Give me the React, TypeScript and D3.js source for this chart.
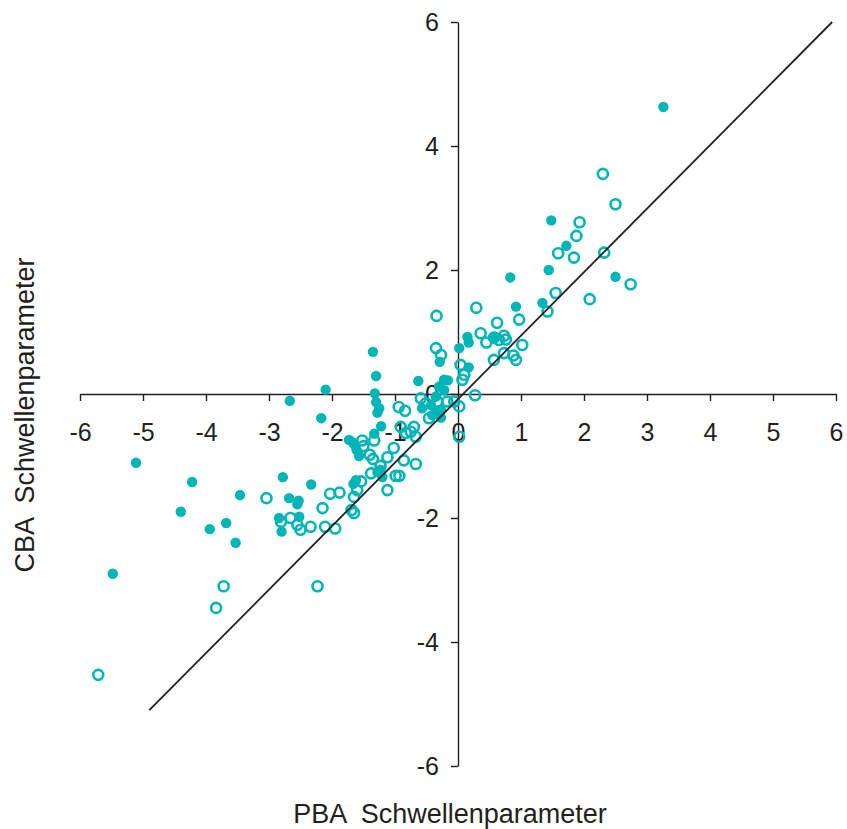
import React, { useEffect, useRef } from "react";
import * as d3 from "d3";

// tick values on both axes
const xTicks = [-6, -5, -4, -3, -2, -1, 0, 1, 2, 3, 4, 5, 6];
const yTicks = [-6, -4, -2, 0, 2, 4, 6];

// filled markers (PBA, CBA)
const solidPoints: [number, number][] = [
  [-5.11, -1.11], [-4.22, -1.42], [-3.46, -1.63], [-4.4, -1.9], [-3.68, -2.08], [-3.94, -2.18],
  [-3.53, -2.4], [-5.48, -2.9],
  [-2.78, -1.34], [-2.33, -1.46], [-2.68, -1.68], [-2.53, -1.72], [-2.55, -1.78], [-2.84, -2.0],
  [-2.52, -1.98], [-2.8, -2.22],
  [-2.67, -0.11], [-2.1, 0.07], [-2.17, -0.39],
  [-1.35, 0.68], [-1.3, 0.29], [-1.32, 0.01], [-1.3, -0.13], [-1.25, -0.23], [-1.28, -0.3],
  [-1.22, -0.52], [-1.33, -0.64],
  [-1.73, -0.74], [-1.67, -0.78], [-1.64, -0.82], [-1.61, -0.9], [-1.57, -1.0],
  [-1.23, -1.22], [-1.28, -1.26], [-1.2, -1.34], [-1.62, -1.39], [-1.66, -1.45],
  [-0.63, 0.21], [-0.22, 0.23], [-0.16, 0.22], [-0.3, 0.12], [-0.22, 0.06], [-0.35, -0.04],
  [-0.43, -0.18], [-0.57, -0.23], [-0.35, -0.29], [-0.27, -0.26], [-0.41, -0.34], [-0.27, -0.38],
  [-0.29, 0.52], [0.02, 0.74], [0.15, 0.92], [0.17, 0.83], [0.17, 0.43],
  [0.59, 0.92], [0.92, 1.41], [1.34, 1.47], [0.83, 1.88], [1.44, 2.0], [1.72, 2.39], [1.48, 2.8],
  [2.5, 1.89], [3.26, 4.63],
];

// open markers (PBA, CBA)
const openPoints: [number, number][] = [
  [-3.72, -3.1], [-3.84, -3.45], [-5.71, -4.53], [-2.23, -3.1],
  [-3.04, -1.68], [-2.66, -2.0], [-2.81, -2.06], [-2.55, -2.11], [-2.5, -2.19], [-2.34, -2.14],
  [-2.11, -2.14], [-1.95, -2.17], [-2.15, -1.84], [-2.03, -1.61], [-1.88, -1.59],
  [-1.69, -1.87], [-1.65, -1.92], [-1.65, -1.66], [-1.6, -1.55], [-1.54, -1.41], [-1.12, -1.55],
  [-1.38, -1.28], [-0.99, -1.32], [-0.93, -1.32], [-1.23, -1.16], [-0.86, -1.07], [-0.67, -1.13],
  [-1.4, -0.98], [-1.35, -1.05], [-1.12, -1.02], [-1.02, -0.87],
  [-1.33, -0.75], [-1.52, -0.75], [-1.5, -0.84],
  [-0.94, -0.21], [-0.84, -0.27], [-0.7, -0.53], [-0.91, -0.53], [-0.75, -0.61], [-0.83, -0.63],
  [-0.67, -0.69], [-0.46, -0.39], [-0.51, -0.15],
  [-0.59, -0.07], [-0.33, -0.12], [-0.17, -0.12], [-0.06, -0.12], [0.02, -0.2], [0.02, -0.69],
  [0.27, -0.02],
  [0.04, 0.47], [0.1, 0.31], [0.07, 0.23],
  [-0.35, 0.74], [-0.27, 0.63], [-0.34, 1.26], [0.29, 1.39],
  [0.36, 0.98], [0.45, 0.83], [0.57, 0.91], [0.65, 0.87], [0.73, 0.94], [0.76, 0.88], [1.02, 0.79],
  [0.73, 0.66], [0.57, 0.55], [0.92, 0.55], [0.88, 0.62], [0.62, 1.15], [0.97, 1.2],
  [1.42, 1.33], [1.55, 1.63], [2.09, 1.53], [2.74, 1.77], [1.84, 2.2], [1.59, 2.27], [2.32, 2.28],
  [1.88, 2.55], [1.93, 2.77], [2.5, 3.06], [2.3, 3.55],
];

// ends of the diagonal reference line
const diagonalLine: [number, number][] = [
  [-4.9, -5.1],
  [5.94, 6.0],
];

const xTitle = "PBA  Schwellenparameter";
const yTitle = "CBA  Schwellenparameter";

const W = 847;
const H = 829;
const TEAL = "#00b5b8";
const INK = "#231f20";
const FONT = "'Liberation Sans', Arial, Helvetica, sans-serif";

const App = () => {
  const svgRef = useRef<SVGSVGElement>(null);

  useEffect(() => {
    if (!svgRef.current) return;
    const svg = d3.select(svgRef.current);
    svg.selectAll("*").remove();

    const x = d3.scaleLinear().domain([-6, 6]).range([80, 836]);
    const y = d3.scaleLinear().domain([-6, 6]).range([766, 22]);

    // axes cross at the origin
    const gx = svg
      .append("g")
      .attr("transform", `translate(0,${y(0)})`)
      .call(
        d3
          .axisBottom(x)
          .tickValues(xTicks)
          .tickSize(7)
          .tickSizeOuter(0)
          .tickPadding(22)
          .tickFormat((d) => String(d))
      );

    const gy = svg
      .append("g")
      .attr("transform", `translate(${x(0)},0)`)
      .call(
        d3
          .axisLeft(y)
          .tickValues(yTicks)
          .tickSize(7)
          .tickSizeOuter(0)
          .tickPadding(12)
          .tickFormat((d) => String(d))
      );

    [gx, gy].forEach((g) => {
      g.select(".domain").attr("stroke", INK).attr("stroke-width", 1.4);
      g.selectAll(".tick line").attr("stroke", INK).attr("stroke-width", 1.4);
      g.selectAll(".tick text")
        .attr("fill", INK)
        .style("font-family", FONT)
        .style("font-size", "25px");
    });

    // markers
    svg
      .append("g")
      .selectAll("circle")
      .data(solidPoints)
      .enter()
      .append("circle")
      .attr("cx", (d) => x(d[0]))
      .attr("cy", (d) => y(d[1]))
      .attr("r", 5.2)
      .attr("fill", TEAL);

    svg
      .append("g")
      .selectAll("circle")
      .data(openPoints)
      .enter()
      .append("circle")
      .attr("cx", (d) => x(d[0]))
      .attr("cy", (d) => y(d[1]))
      .attr("r", 5)
      .attr("fill", "none")
      .attr("stroke", TEAL)
      .attr("stroke-width", 2.6);

    // diagonal line on top
    const line = d3
      .line<[number, number]>()
      .x((d) => x(d[0]))
      .y((d) => y(d[1]));

    svg
      .append("path")
      .datum(diagonalLine)
      .attr("d", line)
      .attr("fill", "none")
      .attr("stroke", INK)
      .attr("stroke-width", 1.8);

    // axis titles
    svg
      .append("text")
      .attr("x", 450)
      .attr("y", 823)
      .attr("text-anchor", "middle")
      .attr("fill", INK)
      .style("font-family", FONT)
      .style("font-size", "27px")
      .style("white-space", "pre")
      .text(xTitle);

    svg
      .append("text")
      .attr("transform", "translate(34,415) rotate(-90)")
      .attr("text-anchor", "middle")
      .attr("fill", INK)
      .style("font-family", FONT)
      .style("font-size", "27px")
      .style("white-space", "pre")
      .text(yTitle);
  }, []);

  return (
    <svg
      ref={svgRef}
      width={W}
      height={H}
      style={{ position: "absolute", left: 0, top: 0, background: "#fff" }}
    />
  );
};

export default App;
